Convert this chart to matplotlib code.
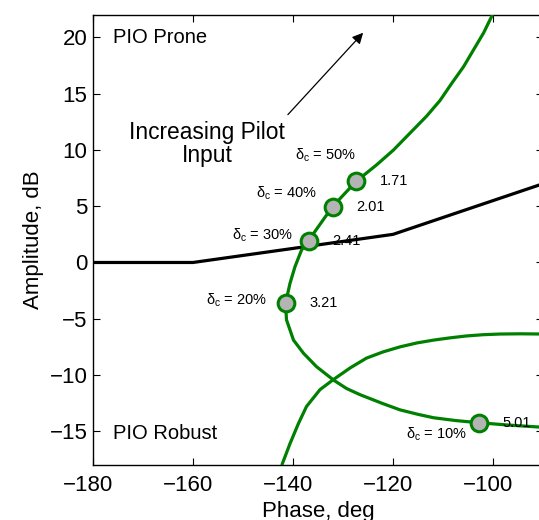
import matplotlib.pyplot as plt
import matplotlib.transforms as mtransforms

plt.rcParams["font.family"] = ["Liberation Sans", "DejaVu Sans"]

GREEN = "#008000"

# boundary line (black)
bound_phase = [-180, -160, -120, -90]
bound_amp = [0, 0, 2.5, 7.0]

# pilot-vehicle response, branch 1 (top -> markers -> right)
b1_phase = [-99.9, -100.3, -101.9, -103.9, -105.9, -108.3, -110.6, -113.3,
            -116.6, -119.9, -123.3, -127.4, -132.1, -136.9, -138.3, -139.6,
            -140.6, -141.5, -141.3, -139.9, -137.9, -135.3, -131.9, -129.3,
            -126.6, -122.0, -118.6, -115.0, -111.9, -107.5, -102.9, -97.3,
            -90.0]
b1_amp = [22.3, 21.85, 20.4, 18.9, 17.4, 15.9, 14.4, 13.0,
          11.5, 10.0, 8.67, 7.2, 4.96, 1.95, 1.1, -0.37,
          -1.85, -3.63, -5.1, -6.9, -8.07, -9.26, -10.45, -11.2,
          -11.75, -12.55, -13.1, -13.5, -13.8, -14.05, -14.24, -14.44,
          -14.65]

# branch 2 (bottom -> right)
b2_phase = [-142.4, -142.1, -140.6, -138.9, -137.3, -134.6, -131.9, -128.5,
            -125.3, -122.0, -118.6, -115.2, -111.9, -108.6, -105.3, -102.0,
            -98.6, -94.5, -90.0]
b2_amp = [-18.3, -17.85, -16.1, -14.3, -12.8, -11.3, -10.4, -9.35,
          -8.5, -7.95, -7.5, -7.15, -6.9, -6.7, -6.53, -6.42,
          -6.36, -6.34, -6.36]

# crossover gain markers
mk_phase = [-127.4, -132.1, -136.9, -141.5, -102.9]
mk_amp = [7.2, 4.96, 1.95, -3.63, -14.24]
mk_gain = ["1.71", "2.01", "2.41", "3.21", "5.01"]
mk_delta = ["50%", "40%", "30%", "20%", "10%"]
# offsets (points) of the delta_c labels, right edge relative to marker
delta_off = [(0, 19), (-11, 10), (-11, 4), (-13, 2), (-8, -8)]

fig = plt.figure(figsize=(5.39, 5.20), dpi=100)
ax = fig.add_axes([0.1725, 0.1058, 0.835, 0.8654])

ax.plot(bound_phase, bound_amp, color="black", lw=2.3, zorder=2)
ax.plot(b1_phase, b1_amp, color=GREEN, lw=2.3, zorder=3)
ax.plot(b2_phase, b2_amp, color=GREEN, lw=2.3, zorder=3)
ax.plot(mk_phase, mk_amp, "o", ls="none", ms=12, mfc="#b4b4b4", mec=GREEN,
        mew=2.2, zorder=4)

for x, y, g, d, off in zip(mk_phase, mk_amp, mk_gain, mk_delta, delta_off):
    ax.annotate(g, xy=(x, y), xytext=(17, 0), textcoords="offset points",
                ha="left", va="center", fontsize=10.5)
    ax.annotate("\u03b4$_{\\mathregular{c}}$ = " + d, xy=(x, y), xytext=off,
                textcoords="offset points", ha="right", va="center",
                fontsize=10.5)

ax.text(-176, 20, "PIO Prone", fontsize=14.5, ha="left", va="center")
ax.text(-176, -15.2, "PIO Robust", fontsize=14.5, ha="left", va="center")
ax.text(-157.2, 10.5, "Increasing Pilot\nInput", fontsize=16.4, ha="center",
        va="center", linespacing=1.0)
ax.annotate("", xy=(-125.6, 20.6), xytext=(-141.4, 12.96),
            arrowprops=dict(arrowstyle="-|>", color="black", lw=0.9,
                            mutation_scale=16))

ax.set_xlim(-180, -90)
ax.set_ylim(-18, 22)
ax.set_xticks([-180, -160, -140, -120, -100])
ax.set_yticks([-15, -10, -5, 0, 5, 10, 15, 20])
ax.set_xticklabels(["\u2212180", "\u2212160", "\u2212140", "\u2212120", "\u2212100"])
ax.set_yticklabels(["\u221215", "\u221210", "\u22125", "0", "5", "10", "15", "20"])
ax.tick_params(direction="in", top=True, right=True, length=5, width=0.8,
               labelsize=16)
ax.tick_params(axis="x", pad=7)
ax.tick_params(axis="y", pad=4)
shift = mtransforms.ScaledTranslation(-5 / 100, 0, fig.dpi_scale_trans)
for lbl in ax.get_xticklabels():
    lbl.set_transform(lbl.get_transform() + shift)
for s in ax.spines.values():
    s.set_linewidth(1.0)
ax.set_xlabel("Phase, deg", fontsize=16, labelpad=4)
ax.set_ylabel("Amplitude, dB", fontsize=16, labelpad=4)

fig.savefig("out.png", dpi=100)
